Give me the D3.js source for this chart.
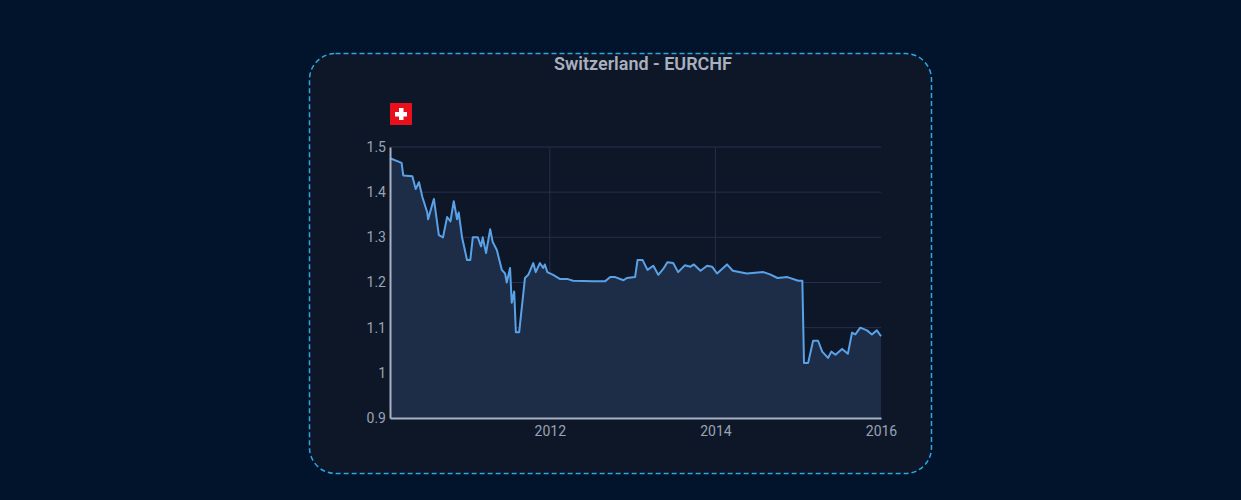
<!DOCTYPE html><html><head><meta charset="utf-8"><script src="https://cdn.jsdelivr.net/npm/d3@7"></script>
<style>body{margin:0;background:#01142c;}svg{display:block}</style></head><body><svg width="1241" height="500"></svg>
<script>
const years=[2010.07,2010.21,2010.23,2010.34,2010.38,2010.42,2010.46,2010.52,2010.53,2010.60,2010.66,2010.71,2010.76,2010.80,2010.84,2010.88,2010.90,2010.94,2011.00,2011.04,2011.07,2011.13,2011.17,2011.19,2011.23,2011.28,2011.31,2011.36,2011.42,2011.46,2011.48,2011.52,2011.54,2011.57,2011.59,2011.63,2011.70,2011.74,2011.80,2011.83,2011.88,2011.92,2011.94,2011.97,2012.04,2012.12,2012.21,2012.28,2012.52,2012.67,2012.73,2012.79,2012.89,2012.93,2013.03,2013.06,2013.12,2013.18,2013.25,2013.31,2013.37,2013.42,2013.49,2013.55,2013.63,2013.70,2013.74,2013.82,2013.90,2013.96,2014.02,2014.14,2014.21,2014.38,2014.58,2014.66,2014.75,2014.87,2015.00,2015.05,2015.07,2015.12,2015.18,2015.24,2015.29,2015.36,2015.40,2015.45,2015.53,2015.60,2015.65,2015.69,2015.75,2015.83,2015.89,2015.95,2016.00];
const rates=[1.475,1.465,1.437,1.435,1.407,1.422,1.39,1.355,1.34,1.385,1.305,1.30,1.345,1.335,1.38,1.34,1.355,1.30,1.25,1.25,1.30,1.30,1.28,1.30,1.265,1.318,1.29,1.272,1.228,1.22,1.20,1.232,1.155,1.18,1.09,1.09,1.21,1.217,1.243,1.223,1.243,1.232,1.24,1.223,1.217,1.208,1.208,1.204,1.203,1.203,1.212,1.212,1.205,1.21,1.212,1.25,1.25,1.228,1.237,1.217,1.23,1.245,1.243,1.223,1.238,1.235,1.24,1.226,1.237,1.235,1.22,1.24,1.226,1.22,1.223,1.218,1.21,1.212,1.204,1.204,1.022,1.022,1.071,1.071,1.047,1.033,1.047,1.04,1.053,1.042,1.089,1.085,1.1,1.094,1.085,1.094,1.081,1.09];
const yTicks=[0.9,1,1.1,1.2,1.3,1.4,1.5];
const xTicks=[2012,2014,2016];
const data=years.map((y,i)=>({x:y,v:rates[i]}));
const svg=d3.select("svg");
svg.append("rect").attr("x",309.5).attr("y",53.5).attr("width",622).attr("height",420).attr("rx",26)
 .attr("fill","#0e1728").attr("stroke","#2ba8e4").attr("stroke-width",1.5).attr("stroke-dasharray","5,3");
svg.append("text").attr("x",643).attr("y",70).attr("text-anchor","middle").attr("fill","#a9b0bf")
 .attr("font-family","Roboto, sans-serif").attr("font-size",18).attr("font-weight",600).text("Switzerland - EURCHF");
const f=svg.append("g").attr("transform","translate(390,103)");
f.append("rect").attr("width",22).attr("height",22).attr("fill","#e8101c");
f.append("rect").attr("x",9).attr("y",5).attr("width",4.5).attr("height",12).attr("fill","#fff");
f.append("rect").attr("x",5).attr("y",9).attr("width",12).attr("height",4.5).attr("fill","#fff");
const x=d3.scaleLinear().domain([2010.07,2016]).range([390,881]);
const y=d3.scaleLinear().domain([0.9,1.5]).range([418,147]);
const g=svg.append("g");
yTicks.slice(1).forEach(t=>g.append("line").attr("x1",390).attr("x2",881).attr("y1",y(t)).attr("y2",y(t)).attr("stroke","#25304a").attr("stroke-width",1));
xTicks.slice(0,2).forEach(t=>g.append("line").attr("x1",x(t)).attr("x2",x(t)).attr("y1",147).attr("y2",418).attr("stroke","#25304a"));
g.append("path").datum(data).attr("fill","#1d2c47").attr("d",d3.area().x(d=>x(d.x)).y0(418).y1(d=>y(d.v)));
g.append("path").datum(data).attr("fill","none").attr("stroke","#5aa2e8").attr("stroke-width",2).attr("stroke-linejoin","round").attr("d",d3.line().x(d=>x(d.x)).y(d=>y(d.v)));
const ya=svg.append("g").attr("transform","translate(390,0)").call(d3.axisLeft(y).tickValues(yTicks).tickSize(0).tickPadding(4).tickFormat(d3.format("~g")));
const xa=svg.append("g").attr("transform","translate(0,418)").call(d3.axisBottom(x).tickValues(xTicks).tickSize(0).tickPadding(8).tickFormat(d3.format("d")));
[ya,xa].forEach(a=>{a.select(".domain").attr("stroke","#a8b2c6").attr("stroke-width",2);a.selectAll("text").attr("fill","#9aa3b4").attr("font-size",14).attr("font-family","Roboto, sans-serif");});
</script></body></html>
